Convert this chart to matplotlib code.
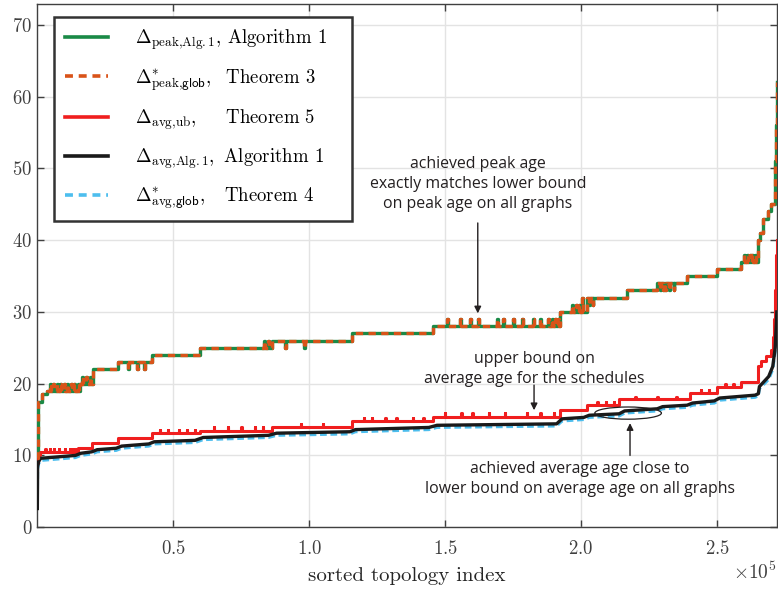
import numpy as np
import matplotlib.pyplot as plt
from matplotlib.patches import Ellipse
from matplotlib.lines import Line2D
from matplotlib.ticker import ScalarFormatter

plt.rcParams['font.family'] = 'cmr10'
plt.rcParams['mathtext.fontset'] = 'cm'
plt.rcParams['axes.formatter.use_mathtext'] = True

# x values are sorted topology indices in units of 1e5
peak_x = [0, 0.001, 0.004, 0.018, 0.036, 0.158, 0.206, 0.298, 0.423, 0.60, 0.864, 1.158,
          1.456, 1.923, 2.02, 2.17, 2.28, 2.39, 2.50, 2.59, 2.652, 2.658, 2.67, 2.686,
          2.70, 2.713, 2.715, 2.717, 2.719, 2.72]
peak_y = [9.6, 16.8, 17.5, 18.5, 19, 20, 22, 23, 24, 25, 26, 27,
          28, 30, 32, 33, 34, 35, 36, 37, 40, 41, 43, 44,
          45, 47, 51, 56, 62, 62]
# short excursions of the peak age (position, level reached)
peak_flick_x = [0.045, 0.058, 0.071, 0.084, 0.097, 0.110, 0.123, 0.136, 0.148,
                0.166, 0.180, 0.194, 0.335, 0.367, 0.393, 0.835, 0.848, 0.91, 0.98,
                1.507, 1.555, 1.592, 1.621, 1.691, 1.713, 1.750, 1.783, 1.824, 1.849,
                1.879, 1.893, 1.904, 1.915, 1.968, 1.980, 1.992, 2.005, 2.030, 2.042,
                2.29, 2.30, 2.31, 2.325, 2.34, 2.60, 2.61, 2.62, 2.63, 2.64]
peak_flick_y = [20, 20, 20, 20, 20, 20, 20, 20, 20,
                21, 21, 21, 22, 22, 22, 26, 26, 25, 25,
                29, 29, 29, 29, 29, 29, 29, 29, 29, 29,
                29, 29, 29, 29, 31, 31, 31, 32, 31, 31,
                33, 33, 33, 33, 33, 38, 38, 38, 38, 38]

ub_x = [0, 0.002, 0.008, 0.15, 0.20, 0.298, 0.423, 0.60, 0.864, 1.158, 1.456, 1.923,
        2.02, 2.14, 2.40, 2.50, 2.59, 2.652, 2.66, 2.68, 2.70, 2.705, 2.71, 2.714, 2.717, 2.72]
ub_y = [8.9, 10.0, 10.5, 11.0, 11.8, 12.4, 13.1, 13.4, 14.0, 14.8, 15.4, 16.3,
        17.0, 17.8, 18.7, 19.5, 20.3, 22.4, 23.1, 23.8, 24.7, 26.5, 29, 33, 38, 40]
ub_flick_x = [0.03, 0.045, 0.06, 0.08, 0.10, 0.12, 0.13, 0.14, 0.45, 0.48, 0.52, 0.55, 0.58,
              0.65, 0.70, 0.75, 0.80, 0.83, 0.97, 1.05, 1.20, 1.23, 1.28, 1.32, 1.38, 1.42,
              1.50, 1.56, 1.60, 1.66, 1.72, 1.80, 1.85, 1.90, 2.06, 2.09, 2.12,
              2.20, 2.28, 2.35, 2.44, 2.47, 2.53, 2.56]
ub_flick_y = [10.9, 10.9, 10.9, 10.9, 10.9, 10.9, 10.9, 10.9, 13.6, 13.6, 13.6, 13.6, 13.6,
              13.9, 13.9, 13.9, 13.9, 13.9, 14.4, 14.4, 15.2, 15.2, 15.2, 15.2, 15.2, 15.2,
              15.9, 15.9, 15.9, 15.9, 15.9, 15.9, 15.9, 15.9, 17.4, 17.4, 17.4,
              18.2, 18.2, 18.2, 19.1, 19.1, 19.9, 19.9]

avg_x = [0, 0.001, 0.004, 0.012, 0.14, 0.16, 0.20, 0.22, 0.29, 0.31, 0.41, 0.43,
         0.58, 0.61, 0.85, 0.88, 1.15, 1.17, 1.44, 1.47, 1.91, 1.93, 2.01, 2.03,
         2.14, 2.16, 2.28, 2.30, 2.39, 2.41, 2.49, 2.51, 2.64, 2.652, 2.656, 2.69,
         2.705, 2.714, 2.72]
avg_y = [2.6, 8.4, 9.1, 9.6, 10.0, 10.3, 10.5, 10.8, 11.0, 11.3, 11.6, 11.9,
         12.1, 12.5, 12.8, 13.1, 13.3, 13.6, 13.9, 14.2, 14.4, 15.1, 15.3, 15.6,
         15.8, 16.2, 16.5, 16.8, 17.0, 17.3, 17.6, 18.0, 18.4, 18.6, 19.6, 21.0,
         22.4, 25.0, 30.0]
glob_y = [2.4, 8.1, 8.8, 9.3, 9.7, 10.0, 10.2, 10.5, 10.7, 11.0, 11.3, 11.6,
          11.8, 12.2, 12.5, 12.8, 13.0, 13.3, 13.6, 13.9, 14.1, 14.8, 15.0, 15.3,
          15.5, 15.9, 16.2, 16.5, 16.7, 17.0, 17.3, 17.7, 18.1, 18.3, 19.3, 20.6,
          22.0, 24.5, 29.5]


def with_flicker(xs, ys, fx, fy, w=0.0035):
    # insert short excursions into a step sequence
    xs = np.asarray(xs, float)
    ys = np.asarray(ys, float)
    pts = list(zip(xs, ys))
    for x0, y0 in zip(fx, fy):
        base = ys[np.searchsorted(xs, x0, side='right') - 1]
        pts += [(x0, y0), (x0 + w, base)]
    pts.sort()
    px, py = zip(*pts)
    return np.array(px) * 1e5, np.array(py)


fig, ax = plt.subplots(figsize=(7.78, 5.91), dpi=100)
fig.subplots_adjust(left=0.048, right=0.9985, bottom=0.108, top=0.993)

px, py = with_flicker(peak_x, peak_y, peak_flick_x, peak_flick_y)
ux, uy = with_flicker(ub_x, ub_y, ub_flick_x, ub_flick_y, w=0.0012)
ax_ = np.array(avg_x) * 1e5

green = '#1a8a46'
orange = '#d95319'
red = '#f01e1e'
cyan = '#4dbeee'

ax.plot(px, py, drawstyle='steps-post', color=green, lw=2.4, zorder=3)
ax.plot(px, py, drawstyle='steps-post', color=orange, lw=2.4, ls=(0, (2.2, 1.6)), zorder=4)
ax.plot(ux, uy, drawstyle='steps-post', color=red, lw=2.2, zorder=3)
ax.plot(ax_, avg_y, color='#1a1a1a', lw=2.4, zorder=3)
ax.plot(ax_, glob_y, color=cyan, lw=2.2, ls=(0, (2.2, 1.2)), zorder=2)

ax.set_xlim(1, 2.72e5)
ax.set_ylim(0, 72.9)
ax.set_xticks([0.5e5, 1e5, 1.5e5, 2e5, 2.5e5])
ax.set_yticks(range(0, 71, 10))
fmt = ScalarFormatter(useMathText=True)
fmt.set_powerlimits((0, 0))
ax.xaxis.set_major_formatter(fmt)
ax.xaxis.get_offset_text().set_fontsize(14)
ax.xaxis.get_offset_text().set_color('#404040')

ax.tick_params(direction='in', length=5, width=1, colors='#404040', labelsize=13.5,
               top=True, right=True)
ax.tick_params(axis='x', pad=9)
for s in ax.spines.values():
    s.set_color('#404040')
    s.set_linewidth(1)
ax.grid(True, color='#e3e3e3', lw=1)
ax.set_axisbelow(True)
ax.set_xlabel('sorted topology index', fontsize=15, color='#262626', labelpad=7)

handles = [
    Line2D([], [], color=green, lw=2.6),
    Line2D([], [], color=orange, lw=2.6, ls=(0, (2.2, 1.6))),
    Line2D([], [], color=red, lw=2.6),
    Line2D([], [], color='#1a1a1a', lw=2.6),
    Line2D([], [], color=cyan, lw=2.6, ls=(0, (2.2, 1.6))),
]
labels = [
    r'$\Delta_{\mathrm{peak{,}Alg.1}}$,$\hspace{0.4}$Algorithm 1',
    r'$\Delta^{*}_{\mathrm{peak}{,}\mathsf{glob}}$,$\hspace{0.9}$Theorem 3',
    r'$\Delta_{\mathrm{avg{,}ub}}$,$\hspace{1.8}$Theorem 5',
    r'$\Delta_{\mathrm{avg{,}Alg.1}}$,$\hspace{0.6}$Algorithm 1',
    r'$\Delta^{*}_{\mathrm{avg}{,}\mathsf{glob}}$,$\hspace{1.2}$Theorem 4',
]
leg = ax.legend(handles, labels, loc='upper left', bbox_to_anchor=(0.023, 0.5, 0.402, 0.475),
                mode='expand', borderaxespad=0, fontsize=13.5, handlelength=2.3,
                handletextpad=1.45, labelspacing=0.78, borderpad=0.55, fancybox=False,
                framealpha=1)
leg.get_frame().set_edgecolor('#333333')
leg.get_frame().set_linewidth(1.8)

note = dict(fontfamily='Open Sans', fontsize=11.4, color='#231f20', ha='center',
            va='center', linespacing=1.35)
arrow = dict(arrowstyle='-|>', color='#231f20', lw=1, mutation_scale=10, shrinkA=0, shrinkB=0)

ax.text(1.62e5, 47.8, 'achieved peak age\nexactly matches lower bound\non peak age on all graphs', **note)
ax.annotate('', xy=(1.62e5, 29.8), xytext=(1.62e5, 42.4), arrowprops=arrow)

ax.text(1.827e5, 22.0, 'upper bound on\naverage age for the schedules', **note)
ax.annotate('', xy=(1.827e5, 16.3), xytext=(1.827e5, 19.8), arrowprops=arrow)

ax.add_patch(Ellipse((2.173e5, 15.9), 0.245e5, 1.7, fill=False, ec='#231f20', lw=0.9, zorder=5))
ax.annotate('', xy=(2.18e5, 14.5), xytext=(2.18e5, 10.0), arrowprops=arrow)
ax.text(1.996e5, 6.7, 'achieved average age close to\nlower bound on average age on all graphs', **note)

fig.savefig('out.png', dpi=100)
